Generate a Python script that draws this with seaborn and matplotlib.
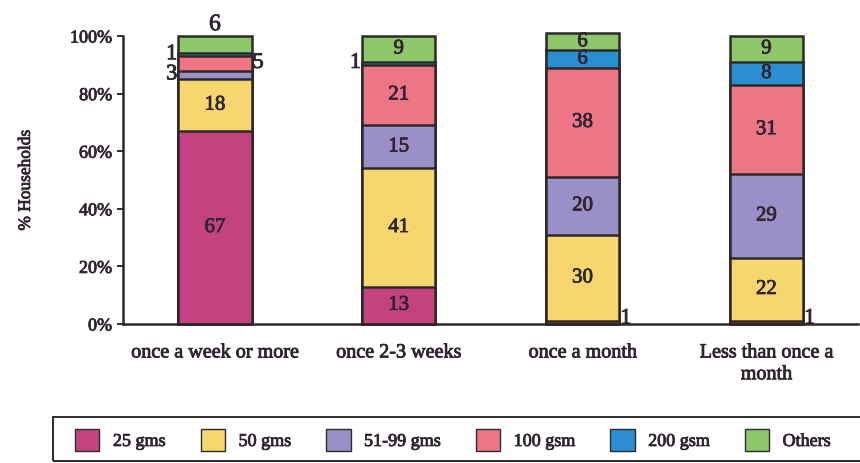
import numpy as np
import pandas as pd
import matplotlib
matplotlib.use("Agg")
import matplotlib.pyplot as plt
import matplotlib.patheffects as pe
import seaborn as sns
from matplotlib.patches import Patch, Rectangle

# Share of households by pack size, per purchase frequency
categories = ["once a week or more", "once 2-3 weeks", "once a month", "Less than once a\nmonth"]
series = ["25 gms", "50 gms", "51-99 gms", "100 gsm", "200 gsm", "Others"]
v_25 = [67, 13, 1, 1]
v_50 = [18, 41, 30, 22]
v_51_99 = [3, 15, 20, 29]
v_100 = [5, 21, 38, 31]
v_200 = [1, 1, 6, 8]
v_others = [6, 9, 6, 9]
y_ticks = [0, 20, 40, 60, 80, 100]
y_tick_labels = ["0%", "20%", "40%", "60%", "80%", "100%"]

colors = ["#c4427f", "#f6d66e", "#9a8fc6", "#ee7586", "#2a8fd2", "#8cc86a"]
edge = "#2e2a2a"
txt = "#2f2530"
heavy = [pe.withStroke(linewidth=0.6, foreground=txt)]

sns.set_theme(style="white")
plt.rcParams["font.family"] = ["Liberation Serif", "DejaVu Serif"]

values = [v_25, v_50, v_51_99, v_100, v_200, v_others]
df = pd.DataFrame({s: v for s, v in zip(series, values)})
df["category"] = categories
cum = df[series].cumsum(axis=1)

fig = plt.figure(figsize=(8.6, 4.64), dpi=100)
ax = fig.add_axes([0.143, 0.2996, 0.855, 0.6206])

# Stacked bars: draw cumulative totals from the top series down
for s, c in zip(reversed(series), reversed(colors)):
    sns.barplot(x=df["category"], y=cum[s], color=c, width=0.4,
                edgecolor=edge, linewidth=1.8, ax=ax, saturation=1)
for p in ax.patches:
    p.set_clip_on(False)

ax.set_ylim(0, 100)
ax.set_xlim(-0.5, 3.5)
ax.set_yticks(y_ticks)
ax.set_yticklabels(y_tick_labels, fontsize=13, color=txt)
ax.set_ylabel("% Households", fontsize=12.5, color=txt, labelpad=26)
ax.set_xlabel("")
ax.set_xticks(range(4))
ax.set_xticklabels(categories, fontsize=14.5, color=txt, linespacing=1.2)
ax.tick_params(axis="x", length=0, pad=14)
ax.set_xticks([0.5, 1.5, 2.5, 3.5], minor=True)
ax.tick_params(axis="x", which="minor", length=4, width=1.4, color=edge, direction="out")
ax.tick_params(axis="y", length=4, width=1.4, color=edge, direction="out", left=True, pad=4)
sns.despine(ax=ax)
for side in ["left", "bottom"]:
    ax.spines[side].set_color(edge)
    ax.spines[side].set_linewidth(1.8)
for t in ax.get_xticklabels() + ax.get_yticklabels() + [ax.yaxis.label]:
    t.set_path_effects(heavy)

# Value labels: inside the segment when it is big enough, beside it otherwise
outside = {
    (0, 5): ("top", 0),
    (0, 4): ("left", 0),
    (0, 3): ("right", 0),
    (0, 2): ("left", 0),
    (1, 4): ("left", 0),
    (2, 0): ("right", 1.2),
    (3, 0): ("right", 1.2),
}
for i in range(len(categories)):
    base = 0
    for j, s in enumerate(series):
        v = values[j][i]
        mid = base + v / 2
        key = (i, j)
        if key in outside:
            where, dy = outside[key]
            if where == "top":
                ax.text(i, base + v + 0.3, str(v), ha="center", va="bottom",
                        fontsize=17, color=txt, clip_on=False, path_effects=heavy)
            elif where == "left":
                ax.text(i - 0.205, mid, str(v), ha="right", va="center",
                        fontsize=16, color=txt, path_effects=heavy)
            else:
                ax.text(i + 0.205, mid + dy, str(v), ha="left", va="center",
                        fontsize=16, color=txt, path_effects=heavy)
        else:
            ax.text(i, mid, str(v), ha="center", va="center",
                    fontsize=15, color=txt, path_effects=heavy)
        base += v

# Legend box runs past the right edge of the figure
fig.patches.append(Rectangle((53 / 860, 1 - 462 / 464), 830 / 860, 44 / 464,
                             transform=fig.transFigure, fill=False,
                             edgecolor=edge, linewidth=1.4))
handles = [Patch(facecolor=c, edgecolor=edge, linewidth=1.0, label=s)
           for s, c in zip(series, colors)]
leg = fig.legend(handles=handles, loc="center left",
                 bbox_to_anchor=(75 / 860, 1 - 441 / 464),
                 ncol=6, frameon=False, fontsize=13,
                 handlelength=1.35, handleheight=1.5,
                 columnspacing=1.95, handletextpad=0.75, borderpad=0,
                 borderaxespad=0)
for t in leg.get_texts():
    t.set_color(txt)
    t.set_path_effects(heavy)

fig.savefig("out.png", dpi=100)
